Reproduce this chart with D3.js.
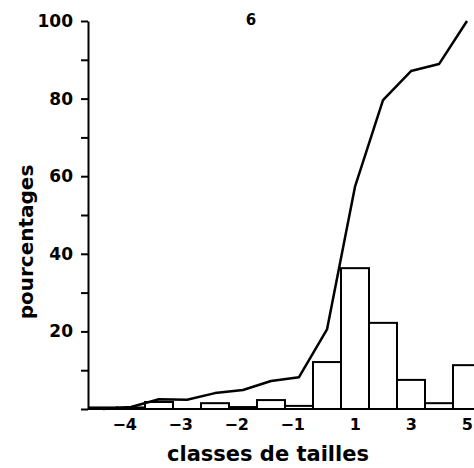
<!DOCTYPE html>
<html>
<head>
<meta charset="utf-8">
<script src="https://cdn.jsdelivr.net/npm/d3@7"></script>
<style>
  body { margin: 0; background: #fff; }
  svg { display: block; }
  text { font-family: "DejaVu Sans", sans-serif; font-weight: bold; fill: #000; }
</style>
</head>
<body>
<div id="chart-area"></div>
<script>
// size classes (14 bars), percentages per class and cumulative curve
var classes = [0, 1, 2, 3, 4, 5, 6, 7, 8, 9, 10, 11, 12, 13];
var percents = [0.4, 0.4, 1.8, 0, 1.5, 0.5, 2.3, 0.8, 12.1, 36.3, 22.2, 7.5, 1.5, 11.3];
var cumul = [0, 0.5, 2.5, 2.4, 4.1, 4.9, 7.2, 8.2, 20.5, 57.3, 79.6, 87.1, 88.9, 100];
var tickClasses = [1, 3, 5, 7, 9, 11, 13];
var tickLabels = ["\u22124", "\u22123", "\u22122", "\u22121", "1", "3", "5"];
var yTicks = [0, 10, 20, 30, 40, 50, 60, 70, 80, 90, 100];

var W = 474, H = 468;

var svg = d3.select("#chart-area")
    .append("svg")
        .attr("width", W)
        .attr("height", H);

var x = d3.scaleLinear()
    .domain([0, 14])
    .range([89, 481]);

var y = d3.scaleLinear()
    .domain([0, 100])
    .range([409, 21]);

// bars
svg.selectAll("rect.bar")
    .data(classes)
    .enter()
    .append("rect")
        .attr("class", "bar")
        .attr("x", (d) => x(d))
        .attr("y", (d) => y(percents[d]))
        .attr("width", (d) => x(d + 1) - x(d))
        .attr("height", (d) => y(0) - y(percents[d]))
        .attr("fill", "#fff")
        .attr("stroke", "#000")
        .attr("stroke-width", 2);

// baseline
svg.append("line")
    .attr("x1", x(0) - 1)
    .attr("x2", x(14))
    .attr("y1", y(0))
    .attr("y2", y(0))
    .attr("stroke", "#000")
    .attr("stroke-width", 2);

// cumulative curve
var line = d3.line()
    .x((d) => x(d + 0.5))
    .y((d) => y(cumul[d]));

svg.append("path")
    .datum(classes)
    .attr("d", line)
    .attr("fill", "none")
    .attr("stroke", "#000")
    .attr("stroke-width", 2.5)
    .attr("stroke-linejoin", "round");

// Y axis
var yAxisCall = d3.axisLeft(y)
    .tickValues(yTicks)
    .tickSize(7)
    .tickSizeOuter(0)
    .tickPadding(8)
    .tickFormat((d) => (d > 0 && d % 20 === 0) ? d : "");

var yAxis = svg.append("g")
    .attr("class", "y axis")
    .attr("transform", "translate(88,0)")
    .call(yAxisCall);

yAxis.selectAll("path, line")
    .attr("stroke", "#000")
    .attr("stroke-width", 2);
yAxis.selectAll("text")
    .attr("font-size", "17px")
    .attr("font-family", "DejaVu Sans, sans-serif")
    .attr("font-weight", "bold");

// X tick labels
svg.selectAll("text.xlab")
    .data(tickClasses)
    .enter()
    .append("text")
        .attr("class", "xlab")
        .attr("x", (d, i) => x(d + 0.5) + 6)
        .attr("y", 430)
        .attr("text-anchor", "end")
        .attr("font-size", "16px")
        .text((d, i) => tickLabels[i]);

// X Label
svg.append("text")
    .attr("x", 268)
    .attr("y", 461)
    .attr("font-size", "21px")
    .attr("text-anchor", "middle")
    .text("classes de tailles");

// Y Label
svg.append("text")
    .attr("x", -242)
    .attr("y", 33)
    .attr("font-size", "20px")
    .attr("text-anchor", "middle")
    .attr("transform", "rotate(-90)")
    .text("pourcentages");

// panel number
svg.append("text")
    .attr("x", 251)
    .attr("y", 25)
    .attr("font-size", "15px")
    .attr("text-anchor", "middle")
    .text("6");
</script>
</body>
</html>
